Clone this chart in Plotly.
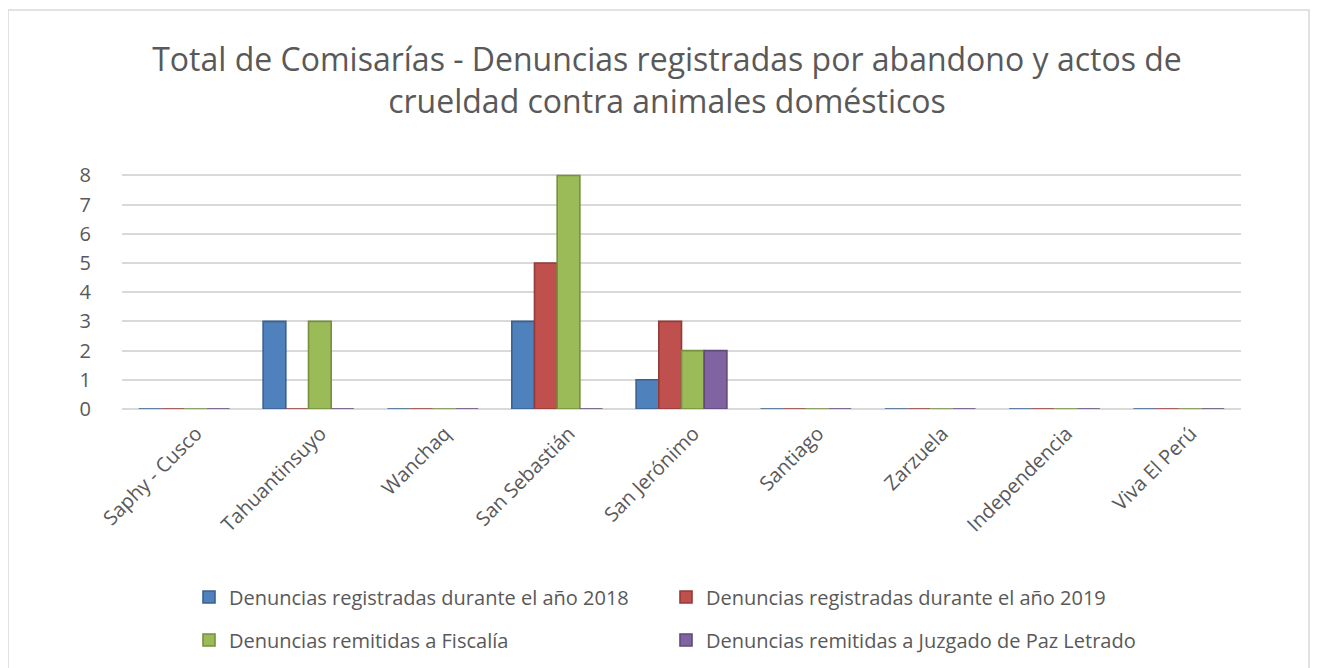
import plotly.graph_objects as go

categories = ["Saphy - Cusco", "Tahuantinsuyo", "Wanchaq", "San Sebastián", "San Jerónimo",
              "Santiago", "Zarzuela", "Independencia", "Viva El Perú"]
series_names = ["Denuncias registradas durante el año 2018",
                "Denuncias registradas durante el año 2019",
                "Denuncias remitidas a Fiscalía",
                "Denuncias remitidas a Juzgado de Paz Letrado"]
v2018 = [0, 3, 0, 3, 1, 0, 0, 0, 0]
v2019 = [0, 0, 0, 5, 3, 0, 0, 0, 0]
fiscalia = [0, 3, 0, 8, 2, 0, 0, 0, 0]
juzgado = [0, 0, 0, 0, 2, 0, 0, 0, 0]
y_ticks = [0, 1, 2, 3, 4, 5, 6, 7, 8]

colors = ["#4F81BD", "#C0504D", "#9BBB59", "#8064A2"]
dark = ["#3A6190", "#933B39", "#76903F", "#5F4A7A"]

W, H = 1318, 668
L, R, T, B = 114, 85, 166, 267
pw = W - L - R
ph = H - T - B

def py(screen_y):
    # screen pixel (page has 8px body margin) -> paper y
    return (H - B - (screen_y - 8)) / ph

def px(screen_x):
    return (screen_x - 8 - L) / pw

fig = go.Figure()
for i, (name, vals, c, d) in enumerate(zip(series_names, [v2018, v2019, fiscalia, juzgado], colors, dark)):
    fig.add_trace(go.Bar(x=categories, y=vals, name=name,
                         legend="legend" if i < 2 else "legend2",
                         marker=dict(color=c, line=dict(color=d, width=1.6))))

fig.add_shape(type="rect", xref="paper", yref="paper",
              x0=px(8), x1=px(1309), y0=py(700), y1=py(10),
              line=dict(color="#D9D9D9", width=1.5), layer="below")

leg_common = dict(orientation="h", xanchor="left", yanchor="middle",
                  entrywidth=432, entrywidthmode="pixels",
                  font=dict(size=20, color="#595959"), traceorder="normal",
                  bgcolor="rgba(0,0,0,0)")

fig.update_layout(
    width=W, height=H,
    margin=dict(l=L, r=R, t=T, b=B),
    paper_bgcolor="white", plot_bgcolor="white",
    font=dict(family="Open Sans, Liberation Sans, sans-serif", color="#595959"),
    title=dict(text="Total de Comisarías - Denuncias registradas por abandono y actos de<br>crueldad contra animales domésticos",
               x=0.5, xanchor="center", y=0.905, yanchor="top",
               font=dict(size=32, color="#595959")),
    barmode="group", bargap=0.27, bargroupgap=0,
    xaxis=dict(tickangle=-45, tickfont=dict(size=20, color="#595959"), showgrid=False,
               showline=False, ticks="", ticklabelshift=12, ticklabelstandoff=8),
    yaxis=dict(range=[0, 8.05], tickvals=y_ticks, tickfont=dict(size=20, color="#595959"),
               gridcolor="#D9D9D9", gridwidth=2, zeroline=True, zerolinecolor="#D9D9D9",
               zerolinewidth=2, ticks="", ticklabelstandoff=30, showline=False),
    legend=dict(x=px(189), y=py(597), **leg_common),
    legend2=dict(x=px(189), y=py(640), **leg_common),
    showlegend=True,
)

fig.write_html("out.html")
